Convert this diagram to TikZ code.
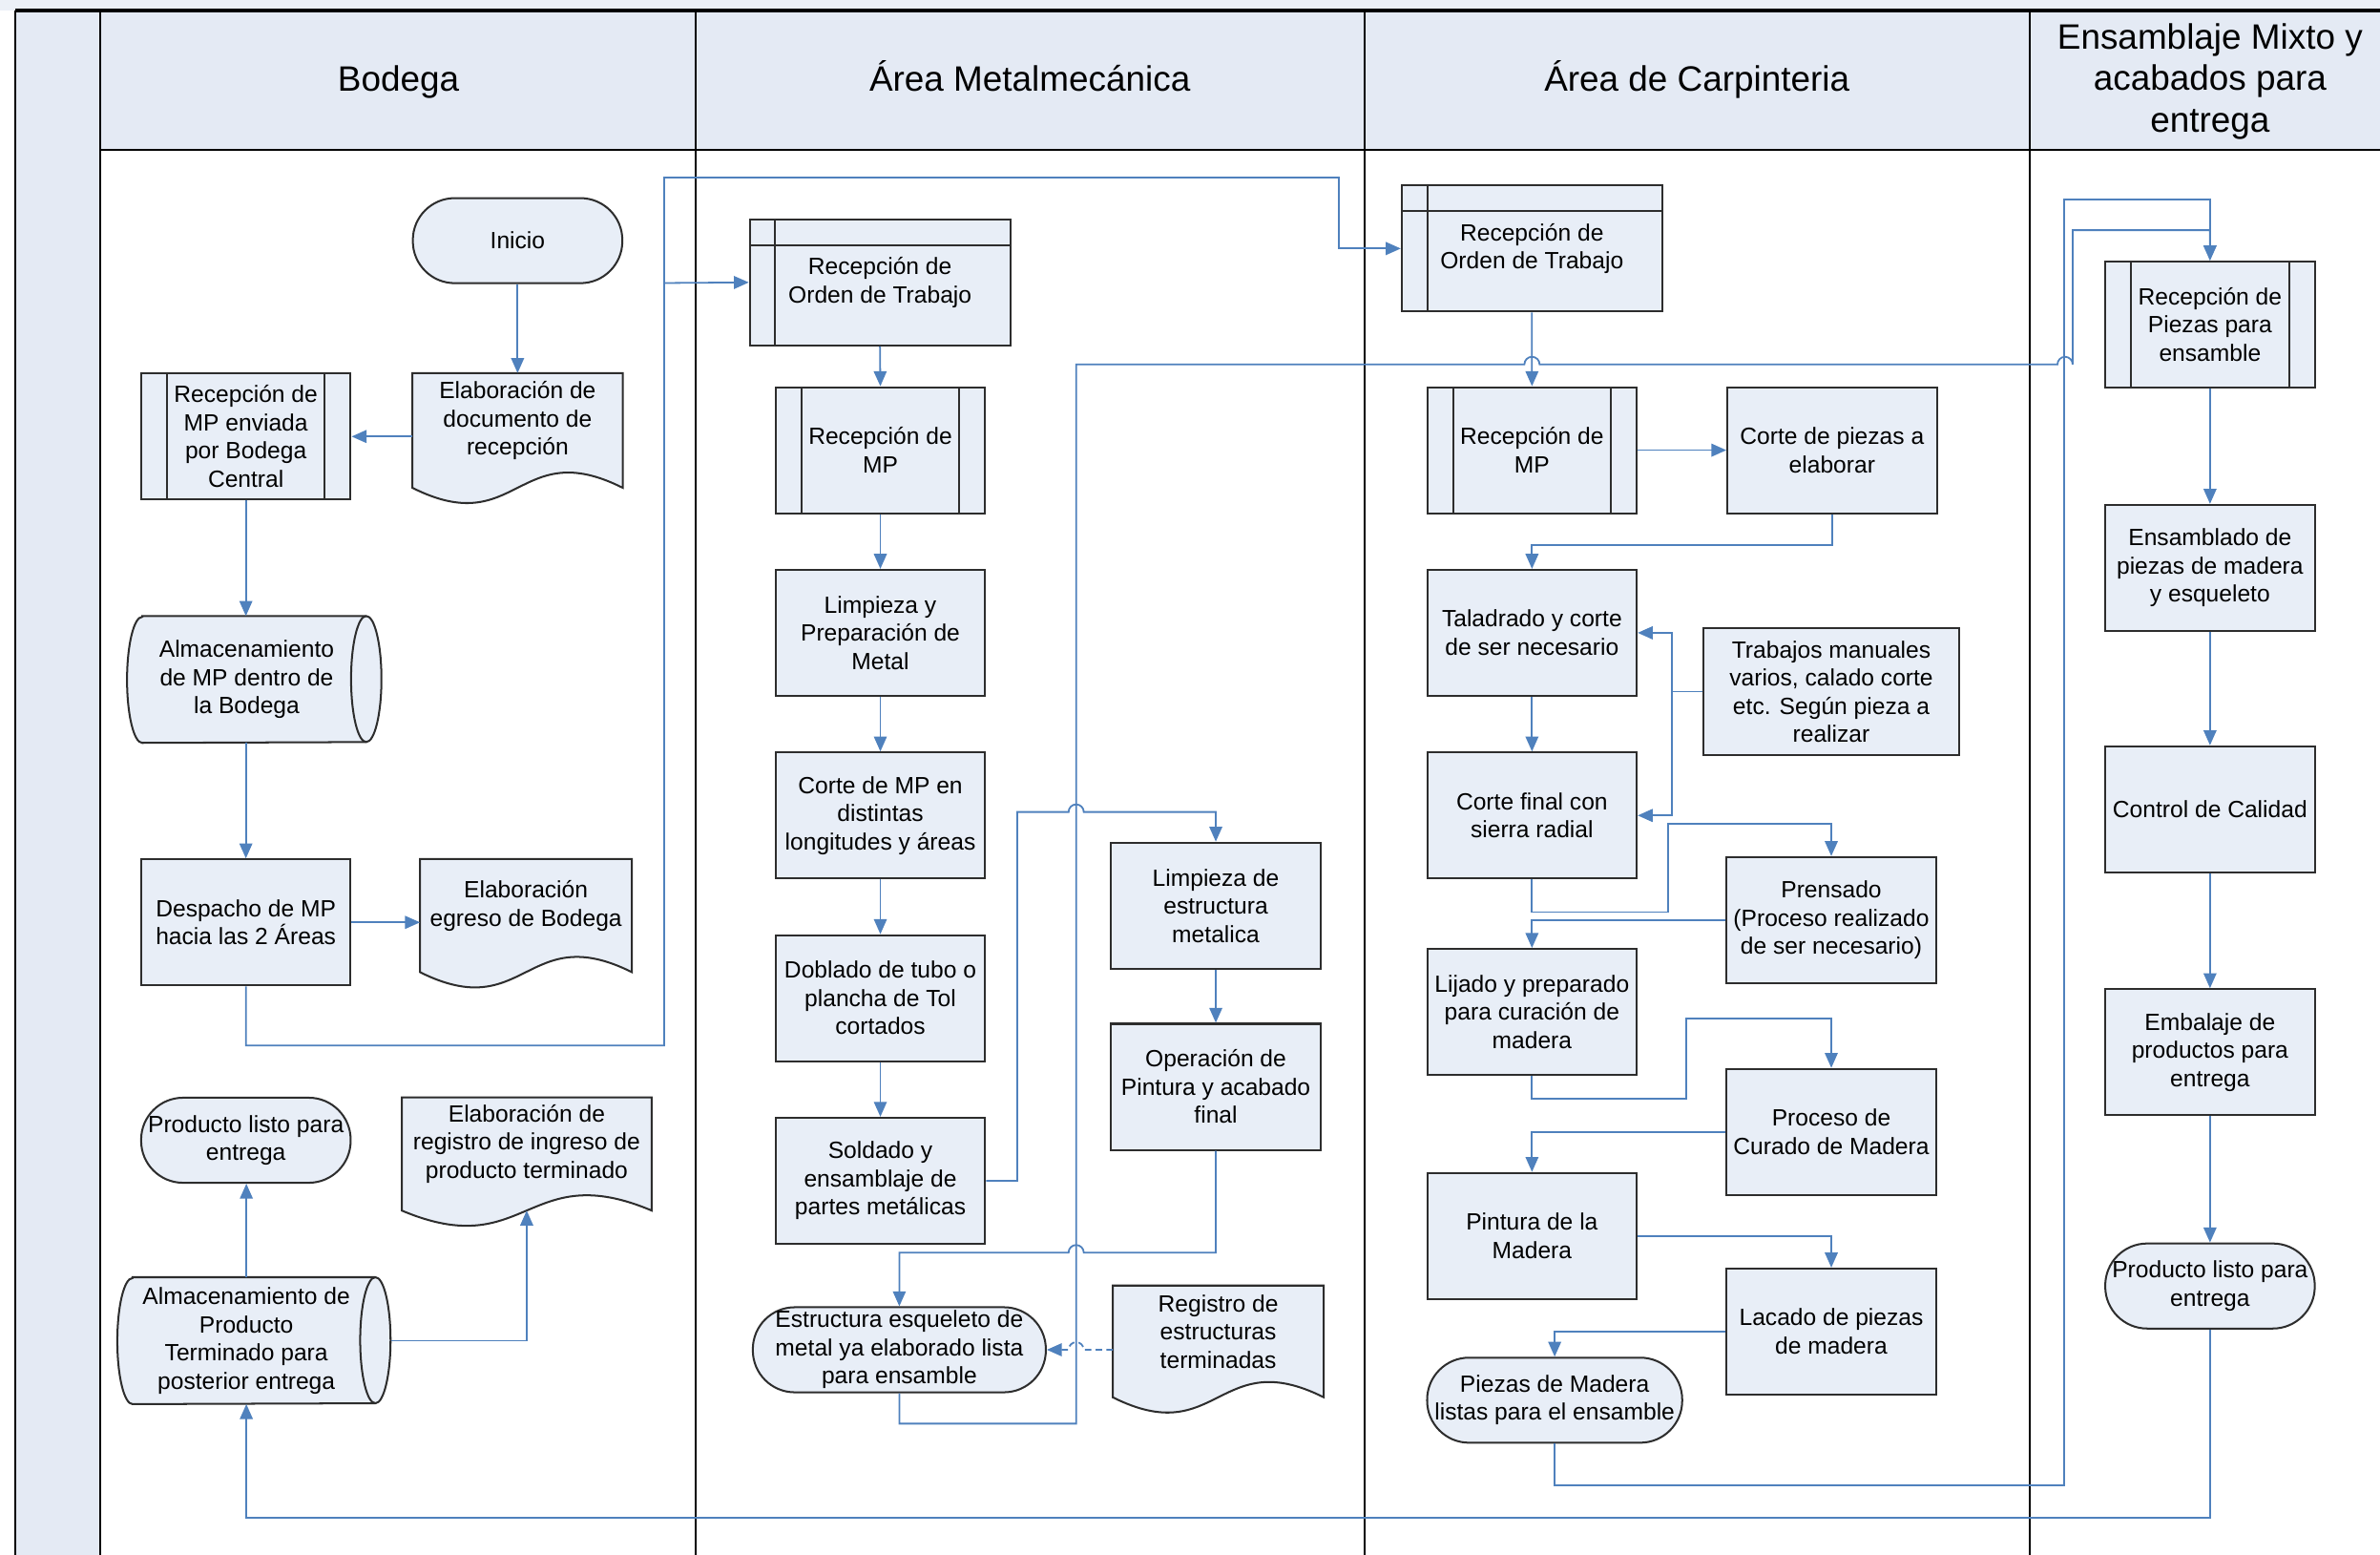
\documentclass[tikz,border=0pt]{standalone}
\usepackage{fontspec}
\setmainfont{Liberation Sans}
\usetikzlibrary{positioning, arrows.meta, calc}
\definecolor{boxfill}{RGB}{232,238,247}
\definecolor{headfill}{RGB}{228,234,244}
\definecolor{flowblue}{RGB}{79,129,189}
\definecolor{boxedge}{RGB}{45,45,45}
\pgfdeclarelayer{back}
\pgfdeclarelayer{shapes}
\pgfsetlayers{back,shapes,main}
\tikzset{
  swimlane/.style={
    x=0.025cm, y=-0.025cm, % one unit is one pixel of the layout
    node distance=0.9cm,
    font=\fontsize{11}{13.2}\selectfont,
    every node/.style={align=center, inner sep=0pt},
  },
  boxline/.style={draw=boxedge, line width=0.9pt, fill=boxfill},
  procbox/.style={rectangle, boxline, minimum width=3.45cm, minimum height=2.075cm},
  subproc/.style={procbox, path picture={
      \draw[boxedge, line width=0.9pt]
        ([xshift=0.425cm]path picture bounding box.north west) -- ([xshift=0.425cm]path picture bounding box.south west)
        ([xshift=-0.425cm]path picture bounding box.north east) -- ([xshift=-0.425cm]path picture bounding box.south east);}},
  intstore/.style={procbox, minimum width=4.2875cm, path picture={
      \draw[boxedge, line width=0.9pt]
        ([yshift=-0.42cm]path picture bounding box.north west) -- ([yshift=-0.42cm]path picture bounding box.north east)
        ([xshift=0.42cm]path picture bounding box.north west) -- ([xshift=0.42cm]path picture bounding box.south west);}},
  termbox/.style={rectangle, rounded corners=0.69cm, boxline, minimum width=3.45cm, minimum height=1.4cm},
  docbox/.style={rectangle}, % outline drawn by \docwave
  storebox/.style={rectangle, minimum height=2.075cm}, % outline drawn by \storewave
  flow/.style={-{Triangle[length=7pt,width=6pt]}, draw=flowblue, line width=0.8pt},
  lanehead/.style={font=\fontsize{16.5}{19.6}\selectfont},
  lane/.style={draw=black, line width=0.9pt},
}
% document shape with wavy bottom
\newcommand{\docwave}[1]{%
  \begin{pgfonlayer}{shapes}
    \draw[boxline] (#1.north west) -- (#1.north east) -- ([yshift=-0.325cm]#1.south east)
      .. controls ([yshift=0.545cm]#1.south) and ([yshift=-1.195cm]#1.south) .. ([yshift=-0.325cm]#1.south west) -- cycle;
  \end{pgfonlayer}}
% stored data shape (lying cylinder)
\newcommand{\storewave}[1]{%
  \begin{pgfonlayer}{shapes}
    \draw[boxline] ([xshift=0.25cm]#1.north west) -- (#1.north east)
      arc[start angle=90, end angle=-90, x radius=0.25cm, y radius=1.0375cm]
      -- ([xshift=0.25cm]#1.south west)
      arc[start angle=270, end angle=90, x radius=0.25cm, y radius=1.0375cm] -- cycle;
    \draw[boxedge, line width=0.9pt] (#1.north east)
      arc[start angle=90, end angle=270, x radius=0.25cm, y radius=1.0375cm];
  \end{pgfonlayer}}

\begin{document}
\begin{tikzpicture}[swimlane]
\useasboundingbox (0,0) rectangle (1568,1024);

% lanes
\begin{pgfonlayer}{back}
  \fill[white] (0,0) rectangle (1568,1024);
  \fill[headfill!70!white] (0,0) rectangle (1568,6.7);
  \fill[headfill] (10.2,6.7) rectangle (65.8,1024);
  \fill[headfill] (65.8,6.7) rectangle (1568,98.8);
  \draw[lane] (65.8,98.8) -- (1568,98.8);
  \foreach \x in {10.2,65.8,458.3,899.2,1337}
    \draw[lane] (\x,6.7) -- (\x,1024);
  \draw[lane, line width=1.8pt] (10.2,6.7) -- (1568,6.7);
\end{pgfonlayer}

\node[lanehead, anchor=base] (hbodega) at (262.5,60) {Bodega};
\node[lanehead, anchor=base] (hmetal) at (678.5,60) {Área Metalmecánica};
\node[lanehead, anchor=base] (hcarp) at (1118,60) {Área de Carpinteria};
\node[lanehead] (hensamble) at (1456,53.7) {Ensamblaje Mixto y\\acabados para\\entrega};

% Bodega
\node[termbox] (inicio) at (341,158.5) {Inicio};
\node[docbox, minimum width=3.45cm, minimum height=1.55cm] (elabdoc) at (341,277) {Elaboración de\\documento de\\recepción};
\node[subproc] (recmpb) at (162,287.5) {Recepción de\\MP enviada\\por Bodega\\Central};
\node[storebox, minimum width=3.925cm] (almmp) at (162.5,447.5) {Almacenamiento\\de MP dentro de\\la Bodega};
\node[procbox] (despacho) at (162,607.5) {Despacho de MP\\hacia las 2 Áreas};
\node[docbox, minimum width=3.475cm, minimum height=1.525cm] (egreso) at (346.5,596.5) {Elaboración\\egreso de Bodega};
\node[termbox] (prodlistob) at (162,751) {Producto listo para\\entrega};
\node[docbox, minimum width=4.1cm, minimum height=1.525cm] (regingreso) at (347,753.5) {Elaboración de\\registro de ingreso de\\producto terminado};
\node[storebox, minimum width=4.235cm] (almpt) at (162.3,883) {Almacenamiento de\\Producto\\Terminado para\\posterior entrega};
\docwave{elabdoc}
\docwave{egreso}
\docwave{regingreso}
\storewave{almmp}
\storewave{almpt}

% Metalmecanica
\node[intstore] (otmetal) at (579.75,186) {Recepción de\\Orden de Trabajo};
\node[subproc] (mpmetal) at (580,296.5) {Recepción de\\MP};
\node[procbox, below=of mpmetal] (limpmetal) {Limpieza y\\Preparación de\\Metal};
\node[procbox, below=of limpmetal] (cortemp) {Corte de MP en\\distintas\\longitudes y áreas};
\node[procbox, below=of cortemp] (doblado) {Doblado de tubo o\\plancha de Tol\\cortados};
\node[procbox, below=of doblado] (soldado) {Soldado y\\ensamblaje de\\partes metálicas};
\node[procbox] (limpest) at (801,596.5) {Limpieza de\\estructura\\metalica};
\node[procbox, below=0.875cm of limpest] (pintmetal) {Operación de\\Pintura y acabado\\final};
\node[termbox, minimum width=4.825cm] (estructura) at (592.5,889) {Estructura esqueleto de\\metal ya elaborado lista\\para ensamble};
\node[docbox, minimum width=3.46cm, minimum height=1.5cm] (regest) at (802.6,877) {Registro de\\estructuras\\terminadas};
\docwave{regest}

% Carpinteria
\node[intstore] (otcarp) at (1009.25,163.7) {Recepción de\\Orden de Trabajo};
\node[subproc] (mpcarp) at (1009.3,296.5) {Recepción de\\MP};
\node[procbox, right=1.46cm of mpcarp] (cortepiezas) {Corte de piezas a\\elaborar};
\node[procbox, below=of mpcarp] (taladrado) {Taladrado y corte\\de ser necesario};
\node[procbox, below=of taladrado] (cortefinal) {Corte final con\\sierra radial};
\node[procbox, minimum width=4.2cm] (trabajos) at (1206.5,455.5) {Trabajos manuales\\varios, calado corte\\etc. Según pieza a\\realizar};
\node[procbox] (prensado) at (1206.5,606) {Prensado\\(Proceso realizado\\de ser necesario)};
\node[procbox] (lijado) at (1009.3,666.5) {Lijado y preparado\\para curación de\\madera};
\node[procbox] (curado) at (1206.5,745.5) {Proceso de\\Curado de Madera};
\node[procbox] (pintmadera) at (1009.3,814) {Pintura de la\\Madera};
\node[procbox] (lacado) at (1206.5,877) {Lacado de piezas\\de madera};
\node[termbox, minimum width=4.2cm] (piezas) at (1024.25,922.2) {Piezas de Madera\\listas para el ensamble};

% Ensamblaje
\node[subproc] (recpiezas) at (1456,213.7) {Recepción de\\Piezas para\\ensamble};
\node[procbox] (ensamblado) at (1456,374) {Ensamblado de\\piezas de madera\\y esqueleto};
\node[procbox] (calidad) at (1456,533) {Control de Calidad};
\node[procbox] (embalaje) at (1456,693) {Embalaje de\\productos para\\entrega};
\node[termbox] (prodlistoe) at (1456,847) {Producto listo para\\entrega};

\coordinate (jbod) at (437.6,186.4);
\coordinate (jmet) at (709,240);
\coordinate (jtrab) at (1101.6,455.5);

% Bodega flows
\draw[flow] (inicio.south) -- (elabdoc.north);
\draw[flow] (recmpb.east -| elabdoc.west) -- (recmpb.east);
\draw[flow] (recmpb.south) -- (recmpb.south |- almmp.north);
\draw[flow] (despacho.north |- almmp.south) -- (despacho.north);
\draw[flow] (despacho.east) -- (despacho.east -| egreso.west);
\draw[flow] (despacho.south) -- ++(0,39) -| (jbod) -- (otmetal.west);
\draw[flow] (jbod) |- (882,116.8) |- (otcarp.west);
\draw[flow] (almpt.north) -- (almpt.north |- prodlistob.south);
\draw[flow] ([xshift=0.26cm]almpt.east) -| ([yshift=-0.325cm]regingreso.south);
\draw[flow] (prodlistoe.south) -- ++(0,124.2) -| (almpt.south);

% Metalmecanica flows
\foreach \a/\b in {otmetal/mpmetal, mpmetal/limpmetal, limpmetal/cortemp, cortemp/doblado, doblado/soldado, limpest/pintmetal}
  \draw[flow] (\a.south) -- (\b.north);
\draw[flow] (soldado.east) -- ++(20.5,0) |- (704,534.8)
  arc[start angle=180, end angle=0, radius=0.125cm] -| (limpest.north);
\draw[flow] (pintmetal.south) |- (714,825)
  arc[start angle=0, end angle=180, radius=0.125cm] -| (estructura.north);
\draw[flow, densely dashed] (estructura.east -| regest.west) -- (714,889)
  arc[start angle=0, end angle=180, radius=0.125cm] -- (estructura.east);
\draw[flow] (estructura.south) -- ++(0,20) -| (jmet) -- (1004.3,240)
  arc[start angle=180, end angle=0, radius=0.125cm] -- (1355.5,240)
  arc[start angle=180, end angle=0, radius=0.125cm] |- (1456,151.6) -- (recpiezas.north);

% Carpinteria flows
\draw[flow] (otcarp.south) -- (mpcarp.north);
\draw[flow] (mpcarp.east) -- (cortepiezas.west);
\draw[flow] (cortepiezas.south) -- ++(0,20.5) -| (taladrado.north);
\draw[flow] (taladrado.south) -- (cortefinal.north);
\draw[flow] (trabajos.west) -- (jtrab) |- (taladrado.east);
\draw[flow] (jtrab) |- (cortefinal.east);
\draw[flow] (cortefinal.south) -- ++(0,21.5) -| (1099,542.8) -| (prensado.north);
\draw[flow] (prensado.west) -| (lijado.north);
\draw[flow] (lijado.south) -- ++(0,15) -| (1111,670.7) -| (curado.north);
\draw[flow] (curado.west) -| (pintmadera.north);
\draw[flow] (pintmadera.east) -| (lacado.north);
\draw[flow] (lacado.west) -| (piezas.north);
\draw[flow] (piezas.south) -- ++(0,27.6) -| (1360,131.4) -| (recpiezas.north);

% Ensamblaje flows
\foreach \a/\b in {recpiezas/ensamblado, ensamblado/calidad, calidad/embalaje, embalaje/prodlistoe}
  \draw[flow] (\a.south) -- (\b.north);
\end{tikzpicture}
\end{document}
